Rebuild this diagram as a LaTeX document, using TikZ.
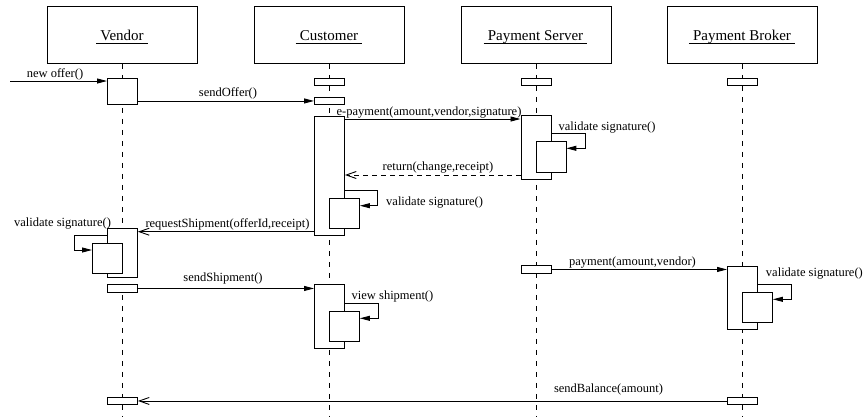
\documentclass[tikz,border=0pt]{standalone}
\usepackage{fontspec}
\setmainfont{Liberation Serif}
\usetikzlibrary{arrows.meta}
\begin{document}
\begin{tikzpicture}[x=1pt,y=-1pt,
  obj/.style={draw, line width=0.9pt, minimum width=150pt, minimum height=57pt, inner sep=0, anchor=north west},
  objlbl/.style={font=\fontsize{15}{18}\selectfont, inner sep=0, anchor=base},
  uline/.style={line width=0.8pt},
  life/.style={line width=0.8pt, dash pattern=on 5pt off 6pt},
  act/.style={draw, fill=white, line width=0.9pt, minimum width=30pt, inner sep=0, anchor=north west},
  msg/.style={font=\fontsize{12.5}{15}\selectfont, inner sep=0},
  sync/.style={line width=0.9pt, -{Triangle[length=10pt,width=5pt]}},
  asyn/.style={line width=0.9pt, -{Straight Barb[length=10pt,width=7pt]}},
  ret/.style={asyn, dash pattern=on 5pt off 4pt},
]
\useasboundingbox (0,0) rectangle (864,416);
% objects
\node[obj] (oV) at (47,6) {};
\node[obj] (oC) at (254,6) {};
\node[obj] (oS) at (460.5,6) {};
\node[obj] (oB) at (667,6) {};
\node[objlbl] (lV) at (122,40.7) {Vendor};
\node[objlbl] (lC) at (329,40.7) {Customer};
\node[objlbl] (lS) at (535.5,40.7) {Payment Server};
\node[objlbl] (lB) at (742,40.7) {Payment Broker};
\foreach \l in {lV,lC,lS,lB}{
  \draw[uline] ([xshift=-4pt,yshift=-2.6pt]\l.base west) -- ([xshift=4pt,yshift=-2.6pt]\l.base east);
}
% lifelines
\draw[life] (oV.south) -- (oV.south |- 0,416);
\draw[life] (oC.south) -- (oC.south |- 0,416);
\draw[life] (oS.south) -- (oS.south |- 0,416);
\draw[life] (oB.south) -- (oB.south |- 0,416);
% activations
\node[act, minimum height=26pt] (a1) at (107,78) {};
\node[act, minimum height=7pt] (c0) at (314,78) {};
\node[act, minimum height=7pt] (c1) at (314,97) {};
\node[act, minimum height=7pt] (s0) at (520.5,78) {};
\node[act, minimum height=7pt] (b0) at (727,78) {};
\node[act, minimum height=119pt] (c2) at (314,116) {};
\node[act, minimum height=64pt] (s1) at (520.5,115) {};
\node[act, minimum height=31pt] (s1n) at (535.5,141) {};
\node[act, minimum height=29.5pt] (c2n) at (329,198.3) {};
\node[act, minimum height=48.7pt] (a2) at (107,228.3) {};
\node[act, minimum height=30pt] (a2n) at (92,243.3) {};
\node[act, minimum height=7.4pt] (a3) at (107,284.3) {};
\node[act, minimum height=64pt] (c3) at (314,284.3) {};
\node[act, minimum height=30pt] (c3n) at (329,310.7) {};
\node[act, minimum height=7.4pt] (s2) at (520.5,265.3) {};
\node[act, minimum height=63.6pt] (b1) at (727,265.7) {};
\node[act, minimum height=30pt] (b1n) at (742,291.7) {};
\node[act, minimum height=7.6pt] (a4) at (107,396.7) {};
\node[act, minimum height=7.6pt] (b2) at (727,396.7) {};
% messages
\coordinate (src) at (10,81);
\draw[sync] (src) -- (a1.west |- src);
\node[msg] (tNew) at (55,74.5) {new offer()};
\draw[sync] (a1.east |- c1.west) -- (c1.west);
\node[msg] (tOffer) at (228,93.5) {sendOffer()};
\draw[sync] (c2.east |- 0,119) -- (s1.west |- 0,119);
\node[msg] (tPay) at (429,113) {e-payment(amount,vendor,signature)};
\draw[sync] (s1.east |- 0,133.3) -| (585,148.3) -- (s1n.east |- 0,148.3);
\node[msg] (tVal1) at (607,128) {validate signature()};
\draw[ret] (s1.west |- 0,175) -- (c2.east |- 0,175);
\node[msg] (tRet) at (438,168) {return(change,receipt)};
\draw[sync] (c2.east |- 0,190.7) -| (377.7,205.7) -- (c2n.east |- 0,205.7);
\node[msg, anchor=west] (tVal2) at (386,202.5) {validate signature()};
\draw[asyn] (c2.west |- 0,231.7) -- (a2.east |- 0,231.7);
\node[msg] (tReq) at (227.5,224.3) {requestShipment(offerId,receipt)};
\draw[sync] (a2.west |- 0,235.7) -| (74,250) -- (a2n.west |- 0,250);
\node[msg] (tVal3) at (62.5,224) {validate signature()};
\draw[sync] (a3.east) -- (c3.west |- a3.east);
\node[msg] (tShip) at (223,278.5) {sendShipment()};
\draw[sync] (c3.east |- 0,303.3) -| (378.3,318.3) -- (c3n.east |- 0,318.3);
\node[msg] (tView) at (392.5,296.7) {view shipment()};
\draw[sync] (s2.east) -- (b1.west |- s2.east);
\node[msg] (tPay2) at (632.5,262.5) {payment(amount,vendor)};
\draw[sync] (b1.east |- 0,284.3) -| (791,299.3) -- (b1n.east |- 0,299.3);
\node[msg, anchor=east] (tVal4) at (863,273.3) {validate signature()};
\draw[asyn] (b2.west) -- (a4.east |- b2.west);
\node[msg] (tBal) at (608.5,389.5) {sendBalance(amount)};
\end{tikzpicture}
\end{document}
